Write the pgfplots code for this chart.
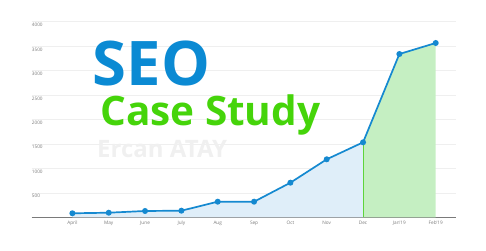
\documentclass[border=0pt]{standalone}
\usepackage{pgfplots}
\pgfplotsset{compat=1.18}
\usepackage{fontspec}
\setmainfont{Open Sans}
\definecolor{seoblue}{HTML}{0B8AD3}
\definecolor{linecol}{HTML}{1589D0}
\definecolor{bluefill}{HTML}{DFEEF9}
\definecolor{greenfill}{HTML}{C5EFC2}
\definecolor{greenline}{HTML}{5ED43A}
\definecolor{casegreen}{HTML}{45D40A}
\definecolor{gridc}{HTML}{EFEFEF}
\definecolor{namec}{HTML}{F0F0F0}
\definecolor{tickc}{HTML}{7A7A7A}
\begin{document}
\begin{tikzpicture}
\useasboundingbox (0pt,0pt) rectangle (486pt,250pt);
\begin{axis}[
  at={(31.7pt,32.7pt)}, anchor=south west,
  scale only axis, width=424pt, height=195.8pt,
  xmin=-1.12, xmax=10.55, ymin=0, ymax=4000,
  axis x line*=bottom, axis y line*=left,
  y axis line style={draw=none},
  x axis line style={draw=tickc, line width=0.7pt},
  major tick length=0pt,
  ymajorgrids, grid style={gridc, line width=0.6pt},
  ytick={500,1000,...,4000},
  xtick={0,...,10},
  xticklabels={April,May,June,July,Aug,Sep,Oct,Nov,Dec,Jan'19,Feb'19},
  /pgf/number format/assume math mode=true,
  /pgf/number format/1000 sep={},
  tick label style={font=\fontsize{4.7}{5}\selectfont, text=tickc},
  yticklabel style={anchor=north west, inner sep=0pt, xshift=0pt, yshift=-1.5pt},
  xticklabel style={anchor=north, inner sep=0pt, yshift=-3.5pt},
]
\addplot[fill=bluefill, draw=none] coordinates {
 (0,82) (1,94) (2,129) (3,135) (4,319) (5,319) (6,707) (7,1185) (8,1532)} \closedcycle;
\addplot[fill=greenfill, draw=none] coordinates {
 (8,1532) (9,3336) (10,3561)} \closedcycle;
\addplot[greenline, line width=1pt] coordinates {(8,0) (8,1532)};
\addplot[linecol, line width=1.7pt, mark=*, mark size=2.1pt] coordinates {
 (0,82) (1,94) (2,129) (3,135) (4,319) (5,319) (6,707) (7,1185) (8,1532) (9,3336) (10,3561)};
\end{axis}
\node[anchor=base west, inner sep=0pt, text=seoblue, font=\fontsize{61.5}{60}\bfseries\selectfont] at (92.5pt,165pt) {SEO};
\node[anchor=base west, inner sep=0pt, text=casegreen, font=\fontsize{40.5}{40}\bfseries\selectfont] at (100pt,125pt) {Case Study};
\node[anchor=base west, inner sep=0pt, text=namec, font=\fontsize{24}{24}\bfseries\selectfont] at (97pt,92.7pt) {Ercan ATAY};
\end{tikzpicture}
\end{document}
